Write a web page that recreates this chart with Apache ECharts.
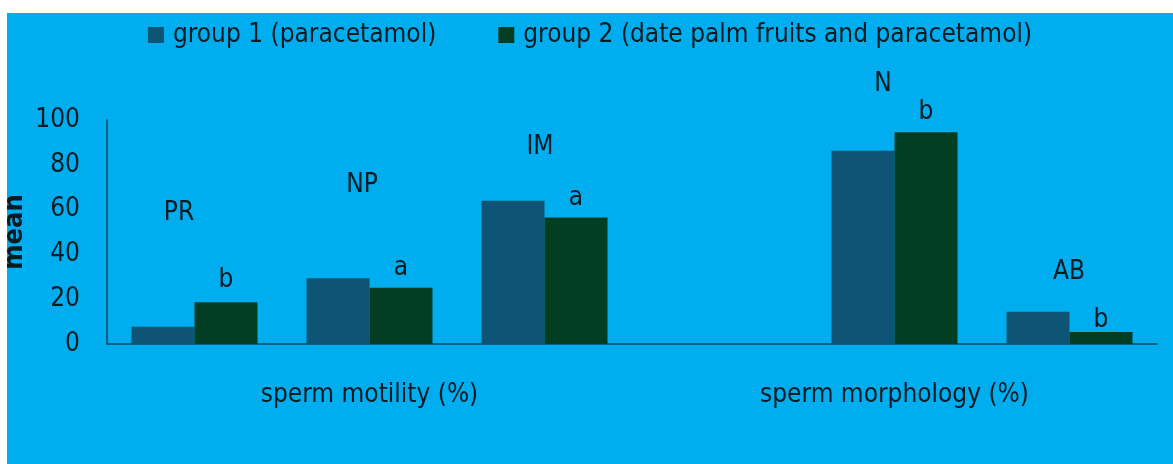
<!DOCTYPE html>
<html>
<head>
<meta charset="utf-8">
<script src="https://cdn.jsdelivr.net/npm/echarts@6/dist/echarts.min.js"></script>
<style>
  html, body { margin: 0; padding: 0; background: #fff; }
  #main { position: absolute; left: 7px; top: 13px; width: 1166px; height: 451px; background: #00aeef; }
</style>
</head>
<body>
<div id="main"></div>
<script>
// values
var categories = ['PR', 'NP', 'IM', '', 'N', 'AB'];
var groupLabels = ['', 'sperm motility (%)', '', '', 'sperm morphology (%)', ''];
var group1 = [7.7, 29.3, 64.0, null, 86.3, 14.4];
var group2 = [18.6, 25.1, 56.5, null, 94.5, 5.4];
var letters = ['b', 'a', 'a', '', 'b', 'b'];
var yTicks = [0, 20, 40, 60, 80, 100];
var yTitle = 'mean';

// where the category names sit above the bars (pixel nudges)
var nameOffset = [[16, -96], [24, -75], [27, -35], [0, 0], [20, -48], [31, -21]];
var letterOffset = [[0, -3], [0, -1], [0, 0], [0, -1], [0, -1], [0, 7]];

var font = '"Liberation Sans Narrow", "DejaVu Sans Condensed", sans-serif';
var ink = '#0a1a22';

var myChart = echarts.init(document.getElementById('main'));

var s1 = group1.map(function (v, i) {
    return { value: v, label: { offset: nameOffset[i] } };
});
var s2 = group2.map(function (v, i) {
    return { value: v, label: { offset: letterOffset[i] } };
});

option = {
    backgroundColor: 'transparent',
    animation: false,
    textStyle: { fontFamily: font },
    legend: {
        top: 4,
        left: 'center',
        itemWidth: 16,
        itemHeight: 16,
        itemGap: 62,
        icon: 'rect',
        textStyle: { fontFamily: font, fontSize: 26, color: ink, padding: [0, 0, 0, 4] }
    },
    // y axis title, drawn rotated at the far left
    graphic: [{
        type: 'text',
        x: 8,
        y: 219,
        rotation: Math.PI / 2,
        style: {
            text: yTitle,
            fontFamily: font,
            fontSize: 27,
            fontWeight: 'bold',
            fill: ink,
            textAlign: 'center',
            textVerticalAlign: 'middle'
        }
    }],
    grid: { left: 100, right: 16, top: 107, bottom: 120, outerBoundsMode: 'none', containLabel: false },
    xAxis: [{
        type: 'category',
        data: categories,
        axisLine: { lineStyle: { color: '#0d4a66', width: 1.5 } },
        axisTick: { show: false },
        axisLabel: { show: false }
    }, {
        type: 'category',
        data: groupLabels,
        position: 'bottom',
        axisLine: { show: false },
        axisTick: { show: false },
        axisLabel: {
            interval: 0,
            margin: 38,
            fontFamily: font,
            fontSize: 26,
            color: ink
        }
    }],
    yAxis: {
        type: 'value',
        min: 0,
        max: 100,
        interval: 20,
        axisLine: { show: true, lineStyle: { color: '#0d4a66', width: 1.5 } },
        axisTick: { show: false },
        splitLine: { show: false },
        axisLabel: {
            margin: 27,
            fontFamily: font,
            fontSize: 26,
            color: ink,
            formatter: function (v) { return yTicks.indexOf(v) >= 0 ? String(v) : ''; }
        }
    },
    series: [{
        name: 'group 1 (paracetamol)',
        type: 'bar',
        data: s1,
        barGap: '0%',
        barCategoryGap: '28%',
        itemStyle: { color: '#0e5575' },
        label: {
            show: true,
            position: 'top',
            fontFamily: font,
            fontSize: 26,
            color: ink,
            formatter: function (p) { return categories[p.dataIndex]; }
        }
    }, {
        name: 'group 2 (date palm fruits and paracetamol)',
        type: 'bar',
        data: s2,
        barGap: '0%',
        barCategoryGap: '28%',
        itemStyle: { color: '#033e22' },
        label: {
            show: true,
            position: 'top',
            distance: 6,
            fontFamily: font,
            fontSize: 26,
            color: ink,
            formatter: function (p) { return letters[p.dataIndex]; }
        }
    }]
};

myChart.setOption(option);
</script>
</body>
</html>
